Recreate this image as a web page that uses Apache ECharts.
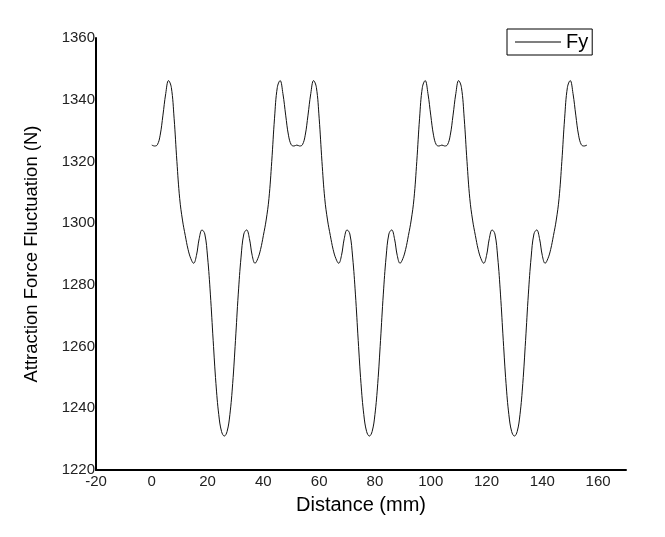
<!DOCTYPE html>
<html>
<head>
<meta charset="utf-8">
<script src="https://cdn.jsdelivr.net/npm/echarts@6/dist/echarts.min.js"></script>
<style>html,body{margin:0;padding:0;background:#fff}#c{width:665px;height:537px}</style>
</head>
<body>
<div id="c"></div>
<script>
var distance = [0,1,2,3,4,5,6,7,8,9,10,11,12,13,14,15,16,17,18,19,20,21,22,23,24,25,26,27,28,29,30,31,32,33,34,35,36,37,38,39,40,41,42,43,44,45,46,47,48,49,50,51,52,53,54,55,56,57,58,59,60,61,62,63,64,65,66,67,68,69,70,71,72,73,74,75,76,77,78,79,80,81,82,83,84,85,86,87,88,89,90,91,92,93,94,95,96,97,98,99,100,101,102,103,104,105,106,107,108,109,110,111,112,113,114,115,116,117,118,119,120,121,122,123,124,125,126,127,128,129,130,131,132,133,134,135,136,137,138,139,140,141,142,143,144,145,146,147,148,149,150,151,152,153,154,155,156];
var fy = [
1325.3,1325.0,1325.4,1328.5,1335,1342,1346.2,1344,1334,1320,1308,1301,1296,1291.5,1288.5,1287,1289.5,1295,1297.8,1296.5,1289,1277,1262,1248,1238,1232.5,1231,
1232.5,1238,1248,1262,1277,1289,1296.5,1297.8,1295,1289.5,1287,1288.5,1291.5,1296,1301,1308,1320,1334,1344,1346.2,1342,1335,1328.5,1325.4,1325.0,1325.3,
1325.0,1325.4,1328.5,1335,1342,1346.2,1344,1334,1320,1308,1301,1296,1291.5,1288.5,1287,1289.5,1295,1297.8,1296.5,1289,1277,1262,1248,1238,1232.5,1231,
1232.5,1238,1248,1262,1277,1289,1296.5,1297.8,1295,1289.5,1287,1288.5,1291.5,1296,1301,1308,1320,1334,1344,1346.2,1342,1335,1328.5,1325.4,1325.0,1325.3,
1325.0,1325.4,1328.5,1335,1342,1346.2,1344,1334,1320,1308,1301,1296,1291.5,1288.5,1287,1289.5,1295,1297.8,1296.5,1289,1277,1262,1248,1238,1232.5,1231,
1232.5,1238,1248,1262,1277,1289,1296.5,1297.8,1295,1289.5,1287,1288.5,1291.5,1296,1301,1308,1320,1334,1344,1346.2,1342,1335,1328.5,1325.4,1325.0,1325.3
];
var seriesName = 'Fy';
var xTitle = 'Distance (mm)';
var yTitle = 'Attraction Force Fluctuation (N)';

var pts = distance.map(function(d, i){ return [d, fy[i]]; });
var font = 'Liberation Sans, Arial, sans-serif';
var chart = echarts.init(document.getElementById('c'));
chart.setOption({
  animation: false,
  backgroundColor: '#fff',
  grid: {left: 96, top: 38, right: 39, bottom: 67, containLabel: false},
  legend: {
    left: 507, top: 29,
    data: [{name: seriesName, icon: 'rect'}],
    itemWidth: 46, itemHeight: 1,
    borderColor: '#000', borderWidth: 1, borderRadius: 0,
    padding: [3, 4, 3, 8],
    textStyle: {fontFamily: font, fontSize: 20, color: '#000', padding: [0,0,0,0]}
  },
  xAxis: {
    type: 'value', min: -20, max: 170, interval: 20,
    name: xTitle, nameLocation: 'middle', nameGap: 25,
    nameTextStyle: {fontFamily: font, fontSize: 20, color: '#000'},
    axisLine: {show: true, onZero: false, lineStyle: {color: '#000', width: 2}},
    axisTick: {show: false},
    splitLine: {show: false},
    axisLabel: {fontFamily: font, fontSize: 15, color: '#222', margin: 4, showMaxLabel: false,
      formatter: function(v){ return String(v); }}
  },
  yAxis: {
    type: 'value', min: 1220, max: 1360, interval: 20,
    name: yTitle, nameLocation: 'middle', nameGap: 55,
    nameTextStyle: {fontFamily: font, fontSize: 18.5, color: '#000'},
    axisLine: {show: true, onZero: false, lineStyle: {color: '#000', width: 2}},
    axisTick: {show: false},
    splitLine: {show: false},
    axisLabel: {fontFamily: font, fontSize: 15, color: '#222', margin: 1,
      formatter: function(v){ return String(v); }}
  },
  series: [{
    name: seriesName, type: 'line', data: pts,
    showSymbol: false, symbol: 'none', smooth: 0.4,
    lineStyle: {color: '#111', width: 1},
    itemStyle: {color: '#000'}
  }]
});
</script>
</body>
</html>
